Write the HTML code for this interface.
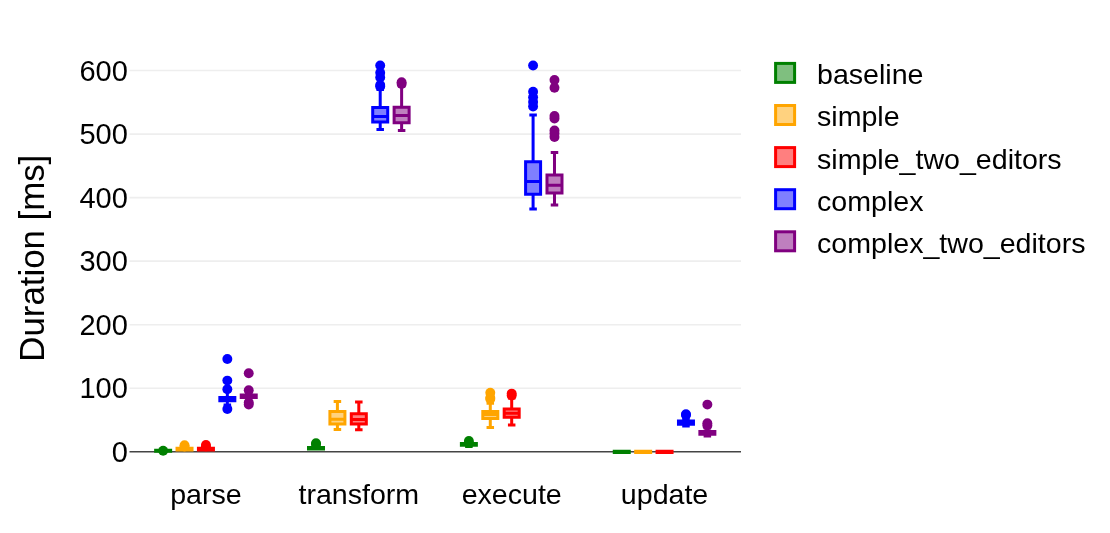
<!DOCTYPE html>
<html><head><meta charset="utf-8"><title>Duration box plot</title>
<style>
html,body{margin:0;padding:0;background:#fff;}
svg{display:block;}
text{filter:grayscale(1);}
text{font-family:"Liberation Sans",Arial,sans-serif;fill:#000;}
.tk{font-size:28.8px;}
.tt{font-size:34.8px;}
.yt{font-size:29px;}
.lo{font-size:28.6px;}
</style></head>
<body>
<svg width="1110" height="533" viewBox="0 0 1110 533">
<rect width="1110" height="533" fill="#fff"/>
<line x1="129.5" x2="741" y1="388.22" y2="388.22" stroke="#eeeeee" stroke-width="1.6"/>
<line x1="129.5" x2="741" y1="324.69" y2="324.69" stroke="#eeeeee" stroke-width="1.6"/>
<line x1="129.5" x2="741" y1="261.16" y2="261.16" stroke="#eeeeee" stroke-width="1.6"/>
<line x1="129.5" x2="741" y1="197.63" y2="197.63" stroke="#eeeeee" stroke-width="1.6"/>
<line x1="129.5" x2="741" y1="134.1" y2="134.1" stroke="#eeeeee" stroke-width="1.6"/>
<line x1="129.5" x2="741" y1="70.57" y2="70.57" stroke="#eeeeee" stroke-width="1.6"/>
<line x1="129.5" x2="741" y1="451.75" y2="451.75" stroke="#444444" stroke-width="1.6"/>
<path d="M155.63,450.8H170.63M155.63,450.2H170.63V451.3H155.63ZM163.13,450.2V450.2M163.13,451.3V451.3M159.38,450.2H166.88M159.38,451.3H166.88" fill="rgba(0,128,0,0.5)" stroke="#008000" stroke-width="3.0"/>
<circle cx="163.13" cy="450.8" r="4.95" fill="#008000"/>
<path d="M308.51,448.5H323.51M308.51,447.5H323.51V449H308.51ZM316.01,447.5V446M316.01,449V449M312.26,446H319.76M312.26,449H319.76" fill="rgba(0,128,0,0.5)" stroke="#008000" stroke-width="3.0"/>
<circle cx="316.01" cy="443.3" r="4.95" fill="#008000"/>
<circle cx="316.01" cy="444.5" r="4.95" fill="#008000"/>
<path d="M461.38,444.3H476.38M461.38,443.4H476.38V445.2H461.38ZM468.88,443.4V442M468.88,445.2V446.5M465.13,442H472.63M465.13,446.5H472.63" fill="rgba(0,128,0,0.5)" stroke="#008000" stroke-width="3.0"/>
<circle cx="468.88" cy="441" r="4.95" fill="#008000"/>
<circle cx="468.88" cy="443" r="4.95" fill="#008000"/>
<path d="M614.26,451.8H629.26M614.26,451.3H629.26V452.4H614.26ZM621.76,451.3V451.3M621.76,452.4V452.4M618.01,451.3H625.51M618.01,452.4H625.51" fill="rgba(0,128,0,0.5)" stroke="#008000" stroke-width="3.0"/>
<path d="M177.03,450H192.03M177.03,448.2H192.03V450H177.03ZM184.53,448.2V448.2M184.53,450V450M180.78,448.2H188.28M180.78,450H188.28" fill="rgba(255,165,0,0.5)" stroke="#ffa500" stroke-width="3.0"/>
<circle cx="184.53" cy="445.3" r="4.95" fill="#ffa500"/>
<circle cx="184.53" cy="446.5" r="4.95" fill="#ffa500"/>
<path d="M329.91,419.2H344.91M329.91,411.5H344.91V423.9H329.91ZM337.41,411.5V401.5M337.41,423.9V429.5M333.66,401.5H341.16M333.66,429.5H341.16" fill="rgba(255,165,0,0.5)" stroke="#ffa500" stroke-width="3.0"/>
<path d="M482.79,414.4H497.79M482.79,411.4H497.79V418.5H482.79ZM490.29,411.4V403.3M490.29,418.5V427.5M486.54,403.3H494.04M486.54,427.5H494.04" fill="rgba(255,165,0,0.5)" stroke="#ffa500" stroke-width="3.0"/>
<circle cx="490.29" cy="392.8" r="4.95" fill="#ffa500"/>
<circle cx="490.29" cy="397.8" r="4.95" fill="#ffa500"/>
<circle cx="490.29" cy="399" r="4.95" fill="#ffa500"/>
<path d="M635.66,451.8H650.66M635.66,451.3H650.66V452.4H635.66ZM643.16,451.3V451.3M643.16,452.4V452.4M639.41,451.3H646.91M639.41,452.4H646.91" fill="rgba(255,165,0,0.5)" stroke="#ffa500" stroke-width="3.0"/>
<path d="M198.44,450H213.44M198.44,448.2H213.44V450H198.44ZM205.94,448.2V448.2M205.94,450V450M202.19,448.2H209.69M202.19,450H209.69" fill="rgba(255,0,0,0.5)" stroke="#ff0000" stroke-width="3.0"/>
<circle cx="205.94" cy="445" r="4.95" fill="#ff0000"/>
<circle cx="205.94" cy="446.5" r="4.95" fill="#ff0000"/>
<path d="M351.31,419.5H366.31M351.31,413.8H366.31V424.1H351.31ZM358.81,413.8V402M358.81,424.1V429.7M355.06,402H362.56M355.06,429.7H362.56" fill="rgba(255,0,0,0.5)" stroke="#ff0000" stroke-width="3.0"/>
<path d="M504.19,413.3H519.19M504.19,409.1H519.19V417.3H504.19ZM511.69,409.1V398M511.69,417.3V425M507.94,398H515.44M507.94,425H515.44" fill="rgba(255,0,0,0.5)" stroke="#ff0000" stroke-width="3.0"/>
<circle cx="511.69" cy="393.6" r="4.95" fill="#ff0000"/>
<circle cx="511.69" cy="395.5" r="4.95" fill="#ff0000"/>
<path d="M657.06,451.8H672.06M657.06,451.3H672.06V452.4H657.06ZM664.56,451.3V451.3M664.56,452.4V452.4M660.81,451.3H668.31M660.81,452.4H668.31" fill="rgba(255,0,0,0.5)" stroke="#ff0000" stroke-width="3.0"/>
<path d="M219.84,399H234.84M219.84,397.4H234.84V400.8H219.84ZM227.34,397.4V391M227.34,400.8V405M223.59,391H231.09M223.59,405H231.09" fill="rgba(0,0,255,0.5)" stroke="#0000ff" stroke-width="3.0"/>
<circle cx="227.34" cy="359" r="4.95" fill="#0000ff"/>
<circle cx="227.34" cy="380.6" r="4.95" fill="#0000ff"/>
<circle cx="227.34" cy="389.3" r="4.95" fill="#0000ff"/>
<circle cx="227.34" cy="409.1" r="4.95" fill="#0000ff"/>
<path d="M372.71,116.4H387.71M372.71,107.6H387.71V122H372.71ZM380.21,107.6V89.5M380.21,122V129.4M376.46,89.5H383.96M376.46,129.4H383.96" fill="rgba(0,0,255,0.5)" stroke="#0000ff" stroke-width="3.0"/>
<circle cx="380.21" cy="65.5" r="4.95" fill="#0000ff"/>
<circle cx="380.21" cy="72.8" r="4.95" fill="#0000ff"/>
<circle cx="380.21" cy="77.5" r="4.95" fill="#0000ff"/>
<circle cx="380.21" cy="85" r="4.95" fill="#0000ff"/>
<circle cx="380.21" cy="86.5" r="4.95" fill="#0000ff"/>
<path d="M525.59,181.4H540.59M525.59,161.7H540.59V194.2H525.59ZM533.09,161.7V115M533.09,194.2V209M529.34,115H536.84M529.34,209H536.84" fill="rgba(0,0,255,0.5)" stroke="#0000ff" stroke-width="3.0"/>
<circle cx="533.09" cy="65.5" r="4.95" fill="#0000ff"/>
<circle cx="533.09" cy="91.8" r="4.95" fill="#0000ff"/>
<circle cx="533.09" cy="97.3" r="4.95" fill="#0000ff"/>
<circle cx="533.09" cy="102" r="4.95" fill="#0000ff"/>
<circle cx="533.09" cy="106.6" r="4.95" fill="#0000ff"/>
<path d="M678.47,422.5H693.47M678.47,420.9H693.47V424.3H678.47ZM685.97,420.9V418M685.97,424.3V426M682.22,418H689.72M682.22,426H689.72" fill="rgba(0,0,255,0.5)" stroke="#0000ff" stroke-width="3.0"/>
<circle cx="685.97" cy="414.2" r="4.95" fill="#0000ff"/>
<circle cx="685.97" cy="415" r="4.95" fill="#0000ff"/>
<path d="M241.24,396H256.24M241.24,395.1H256.24V397.4H241.24ZM248.74,395.1V392M248.74,397.4V401M244.99,392H252.49M244.99,401H252.49" fill="rgba(128,0,128,0.5)" stroke="#800080" stroke-width="3.0"/>
<circle cx="248.74" cy="373.2" r="4.95" fill="#800080"/>
<circle cx="248.74" cy="390.2" r="4.95" fill="#800080"/>
<circle cx="248.74" cy="402.6" r="4.95" fill="#800080"/>
<circle cx="248.74" cy="404.6" r="4.95" fill="#800080"/>
<path d="M394.12,115.5H409.12M394.12,107.3H409.12V122.7H394.12ZM401.62,107.3V86M401.62,122.7V130.5M397.87,86H405.37M397.87,130.5H405.37" fill="rgba(128,0,128,0.5)" stroke="#800080" stroke-width="3.0"/>
<circle cx="401.62" cy="82.3" r="4.95" fill="#800080"/>
<circle cx="401.62" cy="84" r="4.95" fill="#800080"/>
<path d="M546.99,185.3H561.99M546.99,174.9H561.99V193.1H546.99ZM554.49,174.9V152.4M554.49,193.1V205M550.74,152.4H558.24M550.74,205H558.24" fill="rgba(128,0,128,0.5)" stroke="#800080" stroke-width="3.0"/>
<circle cx="554.49" cy="79.9" r="4.95" fill="#800080"/>
<circle cx="554.49" cy="87.7" r="4.95" fill="#800080"/>
<circle cx="554.49" cy="116" r="4.95" fill="#800080"/>
<circle cx="554.49" cy="118.6" r="4.95" fill="#800080"/>
<circle cx="554.49" cy="130.5" r="4.95" fill="#800080"/>
<circle cx="554.49" cy="133.5" r="4.95" fill="#800080"/>
<circle cx="554.49" cy="137" r="4.95" fill="#800080"/>
<path d="M699.87,433H714.87M699.87,431.4H714.87V434.3H699.87ZM707.37,431.4V428M707.37,434.3V436M703.62,428H711.12M703.62,436H711.12" fill="rgba(128,0,128,0.5)" stroke="#800080" stroke-width="3.0"/>
<circle cx="707.37" cy="404.6" r="4.95" fill="#800080"/>
<circle cx="707.37" cy="423.3" r="4.95" fill="#800080"/>
<circle cx="707.37" cy="425.5" r="4.95" fill="#800080"/>
<text x="127.8" y="461.85" text-anchor="end" class="tk yt">0</text>
<text x="127.8" y="398.32" text-anchor="end" class="tk yt">100</text>
<text x="127.8" y="334.79" text-anchor="end" class="tk yt">200</text>
<text x="127.8" y="271.26" text-anchor="end" class="tk yt">300</text>
<text x="127.8" y="207.73" text-anchor="end" class="tk yt">400</text>
<text x="127.8" y="144.2" text-anchor="end" class="tk yt">500</text>
<text x="127.8" y="80.67" text-anchor="end" class="tk yt">600</text>
<text transform="translate(205.94,503.7) scale(1,0.96)" text-anchor="middle" class="tk lo">parse</text>
<text transform="translate(358.81,503.7) scale(1,0.96)" text-anchor="middle" class="tk lo">transform</text>
<text transform="translate(511.69,503.7) scale(1,0.96)" text-anchor="middle" class="tk lo">execute</text>
<text transform="translate(664.56,503.7) scale(1,0.96)" text-anchor="middle" class="tk lo">update</text>
<text transform="translate(44,258.2) rotate(-90)" text-anchor="middle" class="tt">Duration [ms]</text>
<rect x="775.6" y="63.4" width="19" height="19" fill="rgba(0,128,0,0.5)" stroke="#008000" stroke-width="3"/>
<text transform="translate(817,84.3) scale(1,0.96)" class="tk lo">baseline</text>
<rect x="775.6" y="105.5" width="19" height="19" fill="rgba(255,165,0,0.5)" stroke="#ffa500" stroke-width="3"/>
<text transform="translate(817,126.4) scale(1,0.96)" class="tk lo">simple</text>
<rect x="775.6" y="147.6" width="19" height="19" fill="rgba(255,0,0,0.5)" stroke="#ff0000" stroke-width="3"/>
<text transform="translate(817,168.5) scale(1,0.96)" class="tk lo">simple_two_editors</text>
<rect x="775.6" y="189.7" width="19" height="19" fill="rgba(0,0,255,0.5)" stroke="#0000ff" stroke-width="3"/>
<text transform="translate(817,210.6) scale(1,0.96)" class="tk lo">complex</text>
<rect x="775.6" y="231.8" width="19" height="19" fill="rgba(128,0,128,0.5)" stroke="#800080" stroke-width="3"/>
<text transform="translate(817,252.7) scale(1,0.96)" class="tk lo">complex_two_editors</text>
</svg>
</body></html>
